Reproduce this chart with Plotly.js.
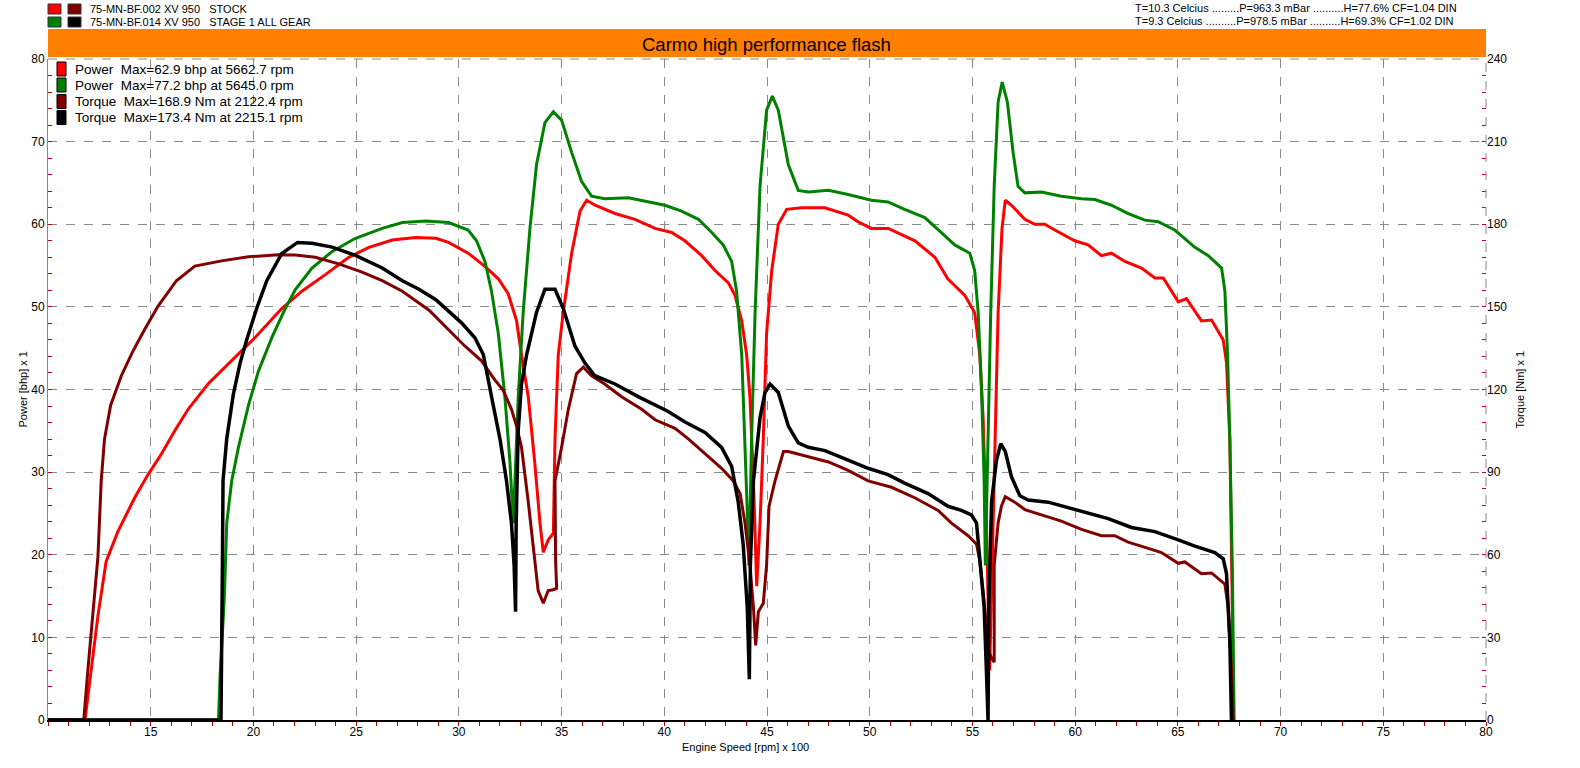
<!DOCTYPE html>
<html><head><meta charset="utf-8">
<script src="https://cdn.plot.ly/plotly-3.0.1.min.js"></script>
<style>html,body{margin:0;padding:0;background:#fff;}#chart{width:1580px;height:768px;}</style>
</head><body><div id="chart"></div>
<script>
// ---- DATA (engine speed in rpm x 100) ----
const stockPowerRpm = [10, 11.8, 12.1, 12.43, 12.83, 13.4, 14.22, 14.87, 15.52, 16.17, 16.82, 17.8, 18.94, 20.08, 21.38, 22.36, 23.5, 24.64, 25.62, 26.76, 27.9, 28.88, 29.5, 30.45, 31.27, 31.92, 32.4, 32.81, 33.05, 33.38, 33.7, 33.95, 34.11, 34.35, 34.6, 34.68, 34.84, 35.08, 35.49, 35.9, 36.22, 36.63, 37.6, 38.57, 39.55, 40.36, 41.0, 41.82, 42.47, 43.12, 43.44, 43.77, 44.01, 44.17, 44.34, 44.5, 44.66, 44.82, 44.98, 45.23, 45.55, 45.96, 46.69, 47.82, 48.95, 49.43, 50.08, 50.9, 52.2, 53.17, 53.8, 54.63, 55.11, 55.36, 55.52, 55.68, 55.84, 55.95, 56.09, 56.25, 56.44, 56.6, 56.9, 57.55, 58.04, 58.52, 59.01, 59.98, 60.63, 61.28, 61.77, 62.42, 63.23, 63.88, 64.29, 65.02, 65.42, 66.15, 66.64, 67.21, 67.37, 67.53, 67.65, 67.7];
const stockPower = [0, 0, 6, 12.6, 19.2, 22.8, 26.9, 29.7, 32.2, 35, 37.6, 40.7, 43.5, 46.3, 49.8, 51.9, 53.9, 56, 57.2, 58.1, 58.4, 58.3, 57.8, 56.5, 54.9, 53.4, 51.6, 48.3, 44.2, 39.1, 31, 23.8, 20.3, 21.8, 22.6, 34, 44.2, 49.3, 56.5, 61.6, 62.9, 62.3, 61.3, 60.6, 59.5, 59, 58, 56.2, 54.4, 52.9, 51.4, 48.3, 44.2, 39.1, 28.9, 16.2, 23.8, 34, 46.8, 54.4, 60, 61.8, 62, 62, 61.1, 60.3, 59.5, 59.5, 58, 56, 53.4, 51.4, 49.3, 44.2, 36.6, 23.8, 6, 18, 34, 49.3, 59.5, 62.9, 62.3, 60.6, 60, 60, 59.3, 58, 57.5, 56.2, 56.5, 55.5, 54.7, 53.5, 53.5, 50.6, 51, 48.3, 48.4, 46, 43.2, 34, 13.6, 0];

const stagePowerRpm = [10, 18.3, 18.37, 18.58, 18.7, 18.94, 19.27, 19.76, 20.24, 20.9, 21.55, 22.04, 22.85, 23.83, 24.97, 26.27, 27.25, 28.39, 29.5, 30.45, 30.86, 31.27, 31.59, 31.92, 32.24, 32.48, 32.65, 32.89, 33.13, 33.46, 33.78, 34.19, 34.6, 35.0, 35.49, 35.97, 36.46, 37.1, 38.25, 39.22, 40.03, 40.84, 41.66, 42.31, 42.87, 43.28, 43.52, 43.77, 43.93, 44.06, 44.12, 44.25, 44.42, 44.66, 44.98, 45.26, 45.55, 46.04, 46.52, 47.01, 47.99, 48.95, 50.08, 50.89, 51.7, 52.68, 53.49, 54.14, 54.87, 55.11, 55.28, 55.44, 55.57, 55.63, 55.76, 55.89, 56.06, 56.25, 56.45, 56.7, 56.98, 57.22, 57.55, 58.36, 59.33, 60.31, 60.96, 61.77, 62.58, 63.39, 64.04, 64.85, 65.83, 66.48, 67.13, 67.29, 67.42, 67.53, 67.65, 67.74];
const stagePower = [0, 0, 5, 14.6, 23.8, 28.9, 33, 38.1, 42.2, 46.3, 49.8, 52.1, 54.7, 56.7, 58.3, 59.5, 60.2, 60.4, 60.2, 59.3, 58, 55.5, 51.9, 46.8, 39.1, 31.5, 23.8, 39.1, 49.3, 59.5, 67.2, 72.3, 73.6, 72.6, 68.7, 65.2, 63.4, 63.1, 63.2, 62.7, 62.3, 61.6, 60.6, 59, 57.5, 55.5, 51.9, 44.2, 34, 23.8, 18.7, 34, 49.3, 64.6, 73.8, 75.5, 73.8, 67.2, 64.1, 63.9, 64.1, 63.6, 62.9, 62.7, 61.8, 60.8, 59, 57.5, 56.5, 54.4, 49.3, 40.2, 28.9, 18.7, 34, 49.3, 64.6, 74.8, 77.2, 74.8, 68.7, 64.6, 63.8, 63.9, 63.4, 63.1, 63, 62.3, 61.3, 60.5, 60.3, 59.3, 57.2, 56.2, 54.7, 51.9, 44.2, 34, 18.7, 0];

const stockTorqueRpm = [10, 11.74, 11.94, 12.18, 12.43, 12.59, 12.75, 13.05, 13.57, 14.14, 14.71, 15.36, 16.25, 17.15, 18.45, 19.76, 21.2, 22.04, 23.01, 24.15, 25.29, 26.27, 27.25, 28.55, 29.5, 30.29, 31.1, 31.75, 32.16, 32.56, 32.81, 33.05, 33.38, 33.62, 33.86, 34.11, 34.35, 34.6, 34.76, 34.71, 34.68, 35.0, 35.33, 35.73, 36.06, 36.46, 37.1, 37.92, 38.9, 39.55, 40.52, 41.17, 41.98, 42.79, 43.36, 43.69, 43.93, 44.17, 44.34, 44.45, 44.58, 44.82, 44.98, 45.1, 45.39, 45.8, 46.04, 47.01, 47.99, 48.95, 49.92, 51.06, 52.19, 53.33, 53.98, 54.79, 55.2, 55.36, 55.6, 55.76, 55.93, 56.06, 56.06, 56.25, 56.41, 56.6, 57.06, 57.55, 58.36, 59.33, 60.31, 61.28, 61.93, 62.58, 63.56, 64.2, 65.02, 65.34, 66.15, 66.64, 67.29, 67.45, 67.61, 67.7];
const stockTorque = [0, 0, 18, 37.8, 59.2, 86.8, 102, 114.3, 125, 134, 141.9, 150.3, 159.5, 164.8, 166.7, 168.2, 168.9, 168.8, 168, 165.6, 162.6, 159.5, 155.7, 148.8, 141.9, 135.8, 130.4, 123.5, 119.7, 112.8, 106.7, 99, 79.1, 63.8, 47, 42.4, 47, 47.3, 47.8, 57.7, 86.8, 99, 112.8, 125.8, 128.1, 125, 122, 117.4, 112.8, 109, 105.9, 102.1, 96.7, 91.4, 86.8, 82.2, 71.5, 56.2, 40.9, 27.1, 39.3, 42.4, 56.2, 77.6, 86.8, 97.5, 97.5, 95.7, 93.7, 90.6, 86.8, 84.5, 80.7, 76.1, 71.5, 66.9, 63.8, 57.7, 40.9, 25.6, 22.5, 21, 56.2, 71.5, 77.6, 81.1, 79.1, 76.4, 74.5, 72.2, 69.2, 66.9, 66.9, 64.6, 62.3, 60.8, 56.9, 57.4, 53.1, 53.4, 49.3, 40.9, 17.9, 0];

const stageTorqueRpm = [10, 18.42, 18.49, 18.52, 18.7, 19.02, 19.35, 19.67, 20.16, 20.65, 21.38, 22.15, 22.85, 23.83, 24.97, 26.27, 27.25, 28.06, 28.88, 29.5, 30.13, 30.78, 31.19, 31.59, 32.0, 32.32, 32.56, 32.69, 32.76, 32.79, 32.89, 33.05, 33.3, 33.78, 34.19, 34.68, 35.08, 35.65, 36.14, 36.62, 37.6, 38.73, 39.55, 40.19, 41.01, 41.98, 42.79, 43.28, 43.6, 43.84, 44.04, 44.14, 44.19, 44.34, 44.66, 44.9, 45.15, 45.55, 46.04, 46.52, 47.01, 47.82, 48.95, 49.92, 50.89, 51.7, 52.84, 53.81, 54.46, 54.95, 55.2, 55.36, 55.57, 55.68, 55.76, 55.8, 55.93, 56.17, 56.38, 56.6, 56.9, 57.31, 57.71, 58.69, 59.98, 61.61, 62.74, 63.88, 65.02, 65.83, 66.8, 67.21, 67.37, 67.53, 67.61];
const stageTorque = [0, 0, 56.2, 86.8, 102.1, 118.2, 129.6, 138, 149.5, 159.5, 169.4, 173.4, 173.1, 171.7, 168.7, 164.1, 159.5, 156.4, 152.6, 148.3, 144.2, 138.8, 132.7, 117.4, 102.1, 86.8, 71.5, 56.2, 39.3, 71.5, 105.2, 122, 132.7, 148, 156.4, 156.4, 149.5, 135.8, 129.6, 125, 122, 117.4, 114.3, 112, 108.2, 104.4, 99, 92.1, 79.1, 63.8, 40.9, 14.8, 56.2, 86.8, 109.7, 118.9, 122, 118.9, 106.7, 100.6, 99, 97.8, 94.4, 91.4, 89.1, 86, 82.2, 77.6, 76.1, 74.5, 71.5, 59.2, 40.9, 17.9, 0, 40.9, 79.1, 94.3, 100.3, 97.5, 88.3, 81.4, 79.9, 79.1, 76.4, 73.1, 69.9, 68.4, 65.4, 63.1, 60.8, 58.5, 53.1, 28.6, 0];

const xTickVals = [15, 20, 25, 30, 35, 40, 45, 50, 55, 60, 65, 70, 75, 80];
const powerTickVals = [0, 10, 20, 30, 40, 50, 60, 70, 80];
const torqueTickVals = [0, 30, 60, 90, 120, 150, 180, 210, 240];

const runNames = ['75-MN-BF.002 XV 950\u00a0\u00a0\u00a0STOCK', '75-MN-BF.014 XV 950\u00a0\u00a0\u00a0STAGE 1 ALL GEAR'];
const runConditions = ['T=10.3 Celcius .........P=963.3 mBar ..........H=77.6% CF=1.04 DIN',
                       'T=9.3 Celcius ..........P=978.5 mBar ..........H=69.3% CF=1.02 DIN'];
const legendTexts = ['Power\u00a0\u00a0Max=62.9 bhp at 5662.7 rpm',
                     'Power\u00a0\u00a0Max=77.2 bhp at 5645.0 rpm',
                     'Torque\u00a0\u00a0Max=168.9 Nm at 2122.4 rpm',
                     'Torque\u00a0\u00a0Max=173.4 Nm at 2215.1 rpm'];
const chartTitle = 'Carmo high performance flash';

// ---- STYLE / LAYOUT ----
const C_RED = '#ff0000', C_GREEN = '#008000', C_DRED = '#800000', C_BLACK = '#000000';
const legendColors = [C_RED, C_GREEN, C_DRED, C_BLACK];
const FONT = 'Liberation Sans, Arial, sans-serif';
const L = 48, R = 1486, T = 59, B = 720;
const fx = px => (px - L) / (R - L);
const fy = py => (B - py) / (B - T);

const traces = [
  {x: stockPowerRpm, y: stockPower, mode: 'lines', line: {color: C_RED, width: 3}, yaxis: 'y'},
  {x: stagePowerRpm, y: stagePower, mode: 'lines', line: {color: C_GREEN, width: 3}, yaxis: 'y'},
  {x: stockTorqueRpm, y: stockTorque, mode: 'lines', line: {color: C_DRED, width: 3}, yaxis: 'y2'},
  {x: stageTorqueRpm, y: stageTorque, mode: 'lines', line: {color: C_BLACK, width: 3.5}, yaxis: 'y2'}
];

const shapes = [
  {type: 'rect', xref: 'paper', yref: 'paper', x0: 0, x1: 1, y0: fy(57), y1: fy(29), fillcolor: '#ff8000', line: {width: 0}},
  {type: 'line', xref: 'paper', yref: 'paper', x0: 0, x1: 1, y0: 1, y1: 1, line: {color: '#888', width: 1, dash: 'dash'}},
  {type: 'line', xref: 'paper', yref: 'paper', x0: 1, x1: 1, y0: 0, y1: 1, line: {color: '#888', width: 1, dash: 'dash'}},
  {type: 'rect', xref: 'paper', yref: 'paper', x0: fx(49), x1: fx(298), y0: fy(128), y1: fy(60), fillcolor: '#ffffff', line: {width: 0}, layer: 'between'}
];
const legendRowY = [69, 85, 101.5, 117.5];
legendColors.forEach((c, i) => {
  shapes.push({type: 'rect', xref: 'paper', yref: 'paper', x0: fx(57), x1: fx(66), y0: fy(legendRowY[i] + 7), y1: fy(legendRowY[i] - 7), fillcolor: c, line: {color: '#000', width: 1}});
});
const headerSw = [[C_RED, C_DRED], [C_GREEN, C_BLACK]];
const headerRowY = [9, 22];
headerSw.forEach((pair, r) => {
  pair.forEach((c, k) => {
    const x0 = 48 + k * 20;
    shapes.push({type: 'rect', xref: 'paper', yref: 'paper', x0: fx(x0), x1: fx(x0 + 13), y0: fy(headerRowY[r] + 5), y1: fy(headerRowY[r] - 5), fillcolor: c, line: {color: '#333', width: 1}});
  });
});

const annotations = [];
runNames.forEach((t, i) => annotations.push({xref: 'paper', yref: 'paper', x: fx(88), y: fy(headerRowY[i]), xanchor: 'left', yanchor: 'middle', text: t, showarrow: false, font: {family: FONT, size: 11, color: '#000'}}));
runConditions.forEach((t, i) => annotations.push({xref: 'paper', yref: 'paper', x: fx(1133), y: fy(headerRowY[i] - 1), xanchor: 'left', yanchor: 'middle', text: t, showarrow: false, font: {family: FONT, size: 11, color: '#000'}}));
annotations.push({xref: 'paper', yref: 'paper', x: fx(766), y: fy(44.5), xanchor: 'center', yanchor: 'middle', text: chartTitle, showarrow: false, font: {family: FONT, size: 18.5, color: '#000'}});
legendTexts.forEach((t, i) => annotations.push({xref: 'paper', yref: 'paper', x: fx(73), y: fy(legendRowY[i]), xanchor: 'left', yanchor: 'middle', text: t, showarrow: false, font: {family: FONT, size: 13.5, color: '#000'}}));
annotations.push({xref: 'paper', yref: 'paper', x: fx(22), y: 0.5, xanchor: 'center', yanchor: 'middle', textangle: -90, text: 'Power [bhp] x 1', showarrow: false, font: {family: FONT, size: 11, color: '#000'}});
annotations.push({xref: 'paper', yref: 'paper', x: fx(1519), y: 0.5, xanchor: 'center', yanchor: 'middle', textangle: -90, text: 'Torque [Nm] x 1', showarrow: false, font: {family: FONT, size: 11, color: '#000'}});
annotations.push({xref: 'paper', yref: 'paper', x: fx(745), y: fy(747), xanchor: 'center', yanchor: 'middle', text: 'Engine Speed [rpm] x 100', showarrow: false, font: {family: FONT, size: 11, color: '#000'}});

const TICKRED = '#c00000';
const layout = {
  width: 1580, height: 768,
  margin: {l: L, r: 1580 - R, t: T, b: 768 - B, pad: 0},
  paper_bgcolor: '#fff', plot_bgcolor: '#fff',
  showlegend: false,
  font: {family: FONT, size: 12, color: '#000'},
  xaxis: {
    range: [10, 80], tickmode: 'array', tickvals: xTickVals, ticktext: xTickVals.map(String),
    showgrid: true, gridcolor: '#8a8a8a', griddash: 'dash', gridwidth: 1, zeroline: false,
    showline: true, linecolor: '#000', linewidth: 2,
    ticks: 'outside', ticklen: 0, tickfont: {family: FONT, size: 12, color: '#000'},
    minor: {tickmode: 'linear', tick0: 10, dtick: 1, ticks: 'outside', ticklen: 4, tickcolor: TICKRED, tickwidth: 1, showgrid: false},
    fixedrange: true
  },
  yaxis: {
    range: [0, 80], tickmode: 'array', tickvals: powerTickVals, ticktext: powerTickVals.map(String),
    showgrid: true, gridcolor: '#8a8a8a', griddash: 'dash', gridwidth: 1, zeroline: false,
    showline: true, linecolor: '#8a8a8a', linewidth: 1,
    ticks: 'inside', ticklen: 0, tickfont: {family: FONT, size: 12, color: '#000'},
    minor: {tickmode: 'linear', tick0: 0, dtick: 2, ticks: 'inside', ticklen: 4, tickcolor: TICKRED, tickwidth: 1, showgrid: false},
    fixedrange: true
  },
  yaxis2: {
    range: [0, 240], overlaying: 'y', side: 'right', tickmode: 'array', tickvals: torqueTickVals, ticktext: torqueTickVals.map(String),
    showgrid: false, zeroline: false, showline: false,
    ticks: 'inside', ticklen: 0, tickfont: {family: FONT, size: 12, color: '#000'},
    minor: {tickmode: 'linear', tick0: 0, dtick: 6, ticks: 'inside', ticklen: 4, tickcolor: TICKRED, tickwidth: 1, showgrid: false},
    fixedrange: true
  },
  shapes: shapes,
  annotations: annotations
};

Plotly.newPlot('chart', traces, layout, {displayModeBar: false, staticPlot: true});
</script>
</body></html>
